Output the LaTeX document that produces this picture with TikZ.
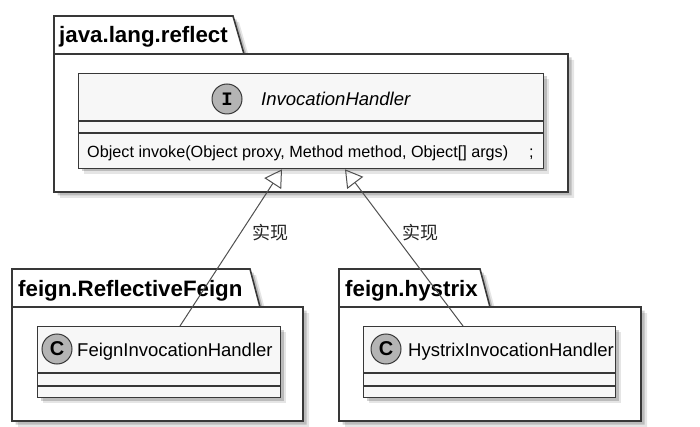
\documentclass[tikz,border=0pt]{standalone}
\usepackage{fontspec}
\setmainfont{Liberation Sans}
\newfontfamily\cjk{Noto Sans CJK SC}
\newfontfamily\monof{Liberation Mono}
\usetikzlibrary{arrows.meta}
\definecolor{linec}{HTML}{383838}
\definecolor{clsfill}{HTML}{F7F7F7}
\definecolor{circfill}{HTML}{B4B4B4}
\definecolor{connc}{HTML}{505050}
\tikzset{
  pkgshape/.style={draw=linec, line width=1.6pt, fill=white},
  shad/.style={fill=black, opacity=0.18, draw=none},
  shadb/.style={fill=black, opacity=0.10, draw=none},
  clsbox/.style={draw=linec, line width=1.3pt, fill=clsfill, anchor=north west, inner sep=0pt},
  sepline/.style={draw=linec, line width=1.3pt},
  pkgtitle/.style={anchor=base west, inner sep=0pt, font=\fontsize{22.3}{26}\selectfont\bfseries},
  clsname/.style={anchor=base west, inner sep=0pt, font=\fontsize{18.5}{22}\selectfont},
  member/.style={anchor=base west, inner sep=0pt, font=\fontsize{16.2}{19}\selectfont},
  spot/.style={circle, draw=linec, line width=1pt, fill=circfill, minimum size=30pt, inner sep=0pt},
  impl/.style={draw=connc, line width=1pt, -{Triangle[open, length=17pt, width=20pt, line width=1pt]}},
  lbl/.style={inner sep=0pt, font=\cjk\fontsize{18}{20}\selectfont, text=black!85}
}
\begin{document}
\begin{tikzpicture}[x=1pt, y=-1pt]
\useasboundingbox (0,0) rectangle (700,427);
\fill[white] (0,0) rectangle (700,427);

% ---------- package shadows ----------
\foreach \o/\s in {6/shadb, 3.5/shad}{
  \fill[\s] (54+\o,16+\o) -- (233+\o,16+\o) -- (244+\o,54+\o) -- (568+\o,54+\o) -- (568+\o,192+\o) -- (54+\o,192+\o) -- cycle;
  \fill[\s] (12+\o,269+\o) -- (250+\o,269+\o) -- (260+\o,307+\o) -- (303+\o,307+\o) -- (303+\o,421+\o) -- (12+\o,421+\o) -- cycle;
  \fill[\s] (339+\o,269+\o) -- (480+\o,269+\o) -- (490+\o,307+\o) -- (641+\o,307+\o) -- (641+\o,421+\o) -- (339+\o,421+\o) -- cycle;
}

% ---------- packages ----------
\draw[pkgshape] (54,54) rectangle (568,192);
\draw[pkgshape] (54,54) -- (54,16) -- (233,16) -- (244,54) -- cycle;
\node[pkgtitle] (p1) at (59,43) {java.lang.reflect};

\draw[pkgshape] (12,307) rectangle (303,421);
\draw[pkgshape] (12,307) -- (12,269) -- (250,269) -- (260,307) -- cycle;
\node[pkgtitle] (p2) at (18,296) {feign.ReflectiveFeign};

\draw[pkgshape] (339,307) rectangle (641,421);
\draw[pkgshape] (339,307) -- (339,269) -- (480,269) -- (490,307) -- cycle;
\node[pkgtitle] (p3) at (345,296) {feign.hystrix};

% ---------- class shadows ----------
\foreach \o/\s in {6/shadb, 3.5/shad}{
  \fill[\s] (78+\o,73+\o) rectangle (543+\o,168+\o);
  \fill[\s] (37+\o,326+\o) rectangle (280+\o,397+\o);
  \fill[\s] (363+\o,326+\o) rectangle (615+\o,397+\o);
}

% ---------- interface ----------
\node[clsbox, minimum width=465pt, minimum height=95pt] (iface) at (78,73) {};
\draw[sepline] ([yshift=-48pt]iface.north west) -- ([yshift=-48pt]iface.north east);
\draw[sepline] ([yshift=-60pt]iface.north west) -- ([yshift=-60pt]iface.north east);
\node[spot] (si) at (227,99) {\monof\fontsize{19}{20}\selectfont\bfseries I};
\node[clsname] (ni) at (261,106) {\itshape InvocationHandler};
\node[member] (mi) at (87,158) {Object invoke(Object proxy, Method method, Object[] args)};
\node[member] (semi) at (529,158) {;};

% ---------- FeignInvocationHandler ----------
\node[clsbox, minimum width=243pt, minimum height=71pt] (feign) at (37,326) {};
\draw[sepline] ([yshift=-47pt]feign.north west) -- ([yshift=-47pt]feign.north east);
\draw[sepline] ([yshift=-60pt]feign.north west) -- ([yshift=-60pt]feign.north east);
\node[spot] (sf) at (57,349) {\fontsize{20}{22}\selectfont\bfseries C};
\node[clsname] (nf) at (77,356) {FeignInvocationHandler};

% ---------- HystrixInvocationHandler ----------
\node[clsbox, minimum width=252pt, minimum height=71pt] (hyst) at (363,326) {};
\draw[sepline] ([yshift=-47pt]hyst.north west) -- ([yshift=-47pt]hyst.north east);
\draw[sepline] ([yshift=-60pt]hyst.north west) -- ([yshift=-60pt]hyst.north east);
\node[spot] (sh) at (386,349) {\fontsize{20}{22}\selectfont\bfseries C};
\node[clsname] (nh) at (408,356) {HystrixInvocationHandler};

% ---------- realizations ----------
\draw[impl] ([xshift=143pt]feign.north west) -- ([xshift=204pt]iface.south west);
\draw[impl] ([xshift=100pt]hyst.north west) -- ([xshift=267pt]iface.south west);
\node[lbl] (l1) at (270,233) {实现};
\node[lbl] (l2) at (420,233) {实现};
\end{tikzpicture}
\end{document}
